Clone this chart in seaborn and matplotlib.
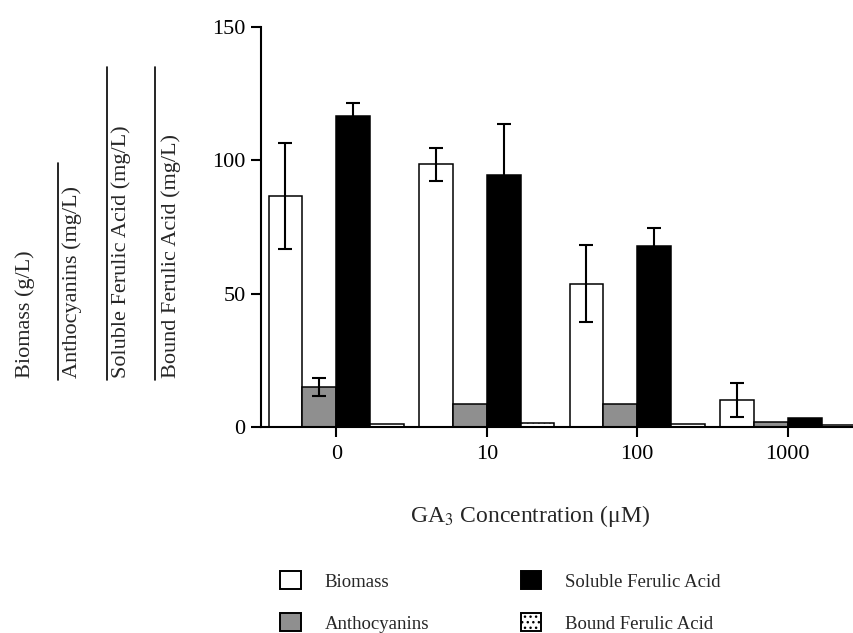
import pandas as pd
import matplotlib
matplotlib.use('Agg')
import matplotlib.pyplot as plt
import seaborn as sns
from matplotlib.lines import Line2D
from matplotlib.patches import Patch

concentrations = ['0', '10', '100', '1000']
series = ['Biomass', 'Anthocyanins', 'Soluble Ferulic Acid', 'Bound Ferulic Acid']

biomass = [86.6, 98.5, 53.8, 10.1]
biomass_err = [20.0, 6.2, 14.5, 6.5]
anthocyanins = [15.1, 8.8, 8.5, 2.0]
anthocyanins_err = [3.3, 0, 0, 0]
soluble_fa = [116.5, 94.5, 68.0, 3.3]
soluble_fa_err = [5.0, 19.0, 6.5, 0]
bound_fa = [1.0, 1.5, 1.1, 0.8]
bound_fa_err = [0, 0, 0, 0]

values = [biomass, anthocyanins, soluble_fa, bound_fa]
errors = [biomass_err, anthocyanins_err, soluble_fa_err, bound_fa_err]

rows = []
for s, vals in zip(series, values):
    for c, v in zip(concentrations, vals):
        rows.append({'conc': c, 'series': s, 'value': v})
df = pd.DataFrame(rows)

sns.set_style('ticks')
plt.rcParams['font.family'] = ['Liberation Serif', 'DejaVu Serif']
plt.rcParams['mathtext.fontset'] = 'stix'

face = {'Biomass': 'white', 'Anthocyanins': '#8f8f8f',
        'Soluble Ferulic Acid': 'black', 'Bound Ferulic Acid': 'white'}
hatches = {'Biomass': '', 'Anthocyanins': '', 'Soluble Ferulic Acid': '',
           'Bound Ferulic Acid': '...'}

fig = plt.figure(figsize=(8.54, 6.33), dpi=100)
ax = fig.add_axes([0.3056, 0.3254, 0.6944, 0.6320])

sns.barplot(data=df, x='conc', y='value', hue='series', hue_order=series,
            order=concentrations, palette=face, width=0.9, gap=0,
            errorbar=None, edgecolor='black', linewidth=1.1, saturation=1,
            legend=False, ax=ax)

for s, cont, errs in zip(series, ax.containers, errors):
    for bar, e in zip(cont, errs):
        bar.set_hatch(hatches[s])
        if e > 0:
            ax.errorbar(bar.get_x() + bar.get_width() / 2, bar.get_height(),
                        yerr=e, fmt='none', ecolor='black', elinewidth=1.5,
                        capsize=5, capthick=1.5, zorder=5)

ax.set_ylim(0, 150)
ax.set_xlim(-0.5, 3.44)
ax.set_yticks([0, 50, 100, 150])
ax.tick_params(axis='both', direction='out', length=7, width=1.5, labelsize=16,
               colors='black')
ax.tick_params(axis='y', pad=4)
ax.tick_params(axis='x', pad=6)
for sp in ['top', 'right']:
    ax.spines[sp].set_visible(False)
for sp in ['left', 'bottom']:
    ax.spines[sp].set_linewidth(1.5)
    ax.spines[sp].set_color('black')
ax.set_ylabel('')
ax.set_xlabel('GA$_3$ Concentration (μM)', fontsize=17)
ax.xaxis.set_label_coords((530 - 261) / 593, -0.19)

# stacked y-axis labels with fraction lines
ylabels = ['Biomass (g/L)', 'Anthocyanins (mg/L)', 'Soluble Ferulic Acid (mg/L)',
           'Bound Ferulic Acid (mg/L)']
label_x = [25, 72, 121, 171]
for lab, lx in zip(ylabels, label_x):
    fig.text(lx / 854, 1 - 378 / 633, lab, rotation=90, fontsize=16,
             ha='center', va='bottom')
line_specs = [(58, 163), (107, 67), (155, 67)]
for lx, ytop in line_specs:
    fig.add_artist(Line2D([lx / 854, lx / 854], [1 - 380 / 633, 1 - ytop / 633],
                          color='black', linewidth=1.2, transform=fig.transFigure))

handles = [Patch(facecolor=face[s], edgecolor='black', hatch=hatches[s],
                 linewidth=1.4) for s in series]
fig.legend(handles, series, ncol=2, loc='center left',
           bbox_to_anchor=(271 / 854, 1 - 602 / 633),
           frameon=False, fontsize=13.5, handlelength=1.1, handleheight=1.1,
           columnspacing=4.9, labelspacing=1.2, handletextpad=1.25, borderpad=0)

plt.savefig('out.png', dpi=100)
